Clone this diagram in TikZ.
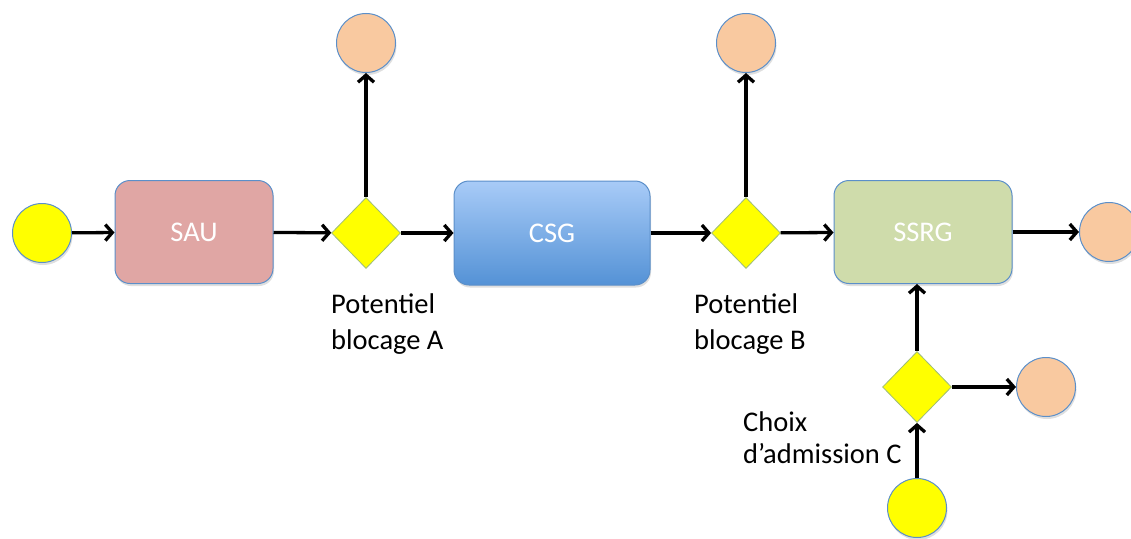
\documentclass[tikz,border=0pt]{standalone}
\usepackage{fontspec}
\setmainfont{Carlito}
\usetikzlibrary{shapes,arrows.meta,shadows}
\definecolor{bordbleu}{HTML}{5B8FC9}
\definecolor{jaune}{HTML}{FFFF00}
\definecolor{peche}{HTML}{F9C9A0}
\definecolor{rose}{HTML}{E0A6A4}
\definecolor{vert}{HTML}{CFDCAB}
\definecolor{bleuhaut}{HTML}{A8CBF7}
\definecolor{bleubas}{HTML}{5492D6}

\begin{document}
\begin{tikzpicture}[x=1pt,y=-1pt,
  fleche/.style={-{Straight Barb[length=7pt,width=16pt]},line width=3.3pt},
  ombre/.style={drop shadow={shadow xshift=1pt,shadow yshift=-2.5pt,opacity=.25}},
  rond/.style={circle,draw=bordbleu,line width=1pt,minimum size=59pt,inner sep=0pt,ombre},
  entree/.style={rond,fill=jaune},
  sortie/.style={rond,fill=peche},
  porte/.style={diamond,draw=bordbleu!60!jaune,line width=.8pt,fill=jaune,
                minimum width=69pt,minimum height=71pt,inner sep=0pt},
  unite/.style={rectangle,rounded corners=15pt,draw=bordbleu,line width=1pt,
                text=white,inner sep=0pt,ombre},
  legende/.style={align=left,anchor=base west,inner sep=0pt}]
\tikzset{every node/.style={font=\fontsize{28.5}{36}\selectfont}}
\useasboundingbox (0,0) rectangle (1131,538);

\node[entree] (debut) at (42,233) {};
\node[unite,fill=rose,minimum width=158pt,minimum height=103pt] (sau) at (194,232) {SAU};
\node[porte] (pa) at (366,233) {};
\node[sortie] (sa) at (366,43) {};
\node[unite,top color=bleuhaut,bottom color=bleubas,minimum width=196pt,minimum height=104pt] (csg) at (552,233) {CSG};
\node[porte] (pb) at (746,233) {};
\node[sortie] (sb) at (746,43) {};
\node[unite,fill=vert,minimum width=178pt,minimum height=103pt] (ssrg) at (923,232) {SSRG};
\node[sortie] (fin) at (1109,232) {};
\node[porte] (pc) at (917,387) {};
\node[sortie] (sc) at (1046,387) {};
\node[entree] (admis) at (917,508) {};

\node[legende] (la) at (331,349) {Potentiel\\blocage A};
\node[legende] (lb) at (694,349) {Potentiel\\blocage B};
\node[legende,font=\fontsize{28.5}{32}\selectfont] (lc) at (743,463) {Choix\\d’admission C};

\draw[fleche] (debut) -- (sau);
\draw[fleche] (sau) -- (pa);
\draw[fleche] (pa) -- (sa);
\draw[fleche] (pa) -- (csg);
\draw[fleche] (csg) -- (pb);
\draw[fleche] (pb) -- (sb);
\draw[fleche] (pb) -- (ssrg);
\draw[fleche] (ssrg) -- (fin);
\draw[fleche] (admis) -- (pc);
\draw[fleche] (pc) -- (pc.north |- ssrg.south);
\draw[fleche] (pc) -- (sc);
\end{tikzpicture}
\end{document}
